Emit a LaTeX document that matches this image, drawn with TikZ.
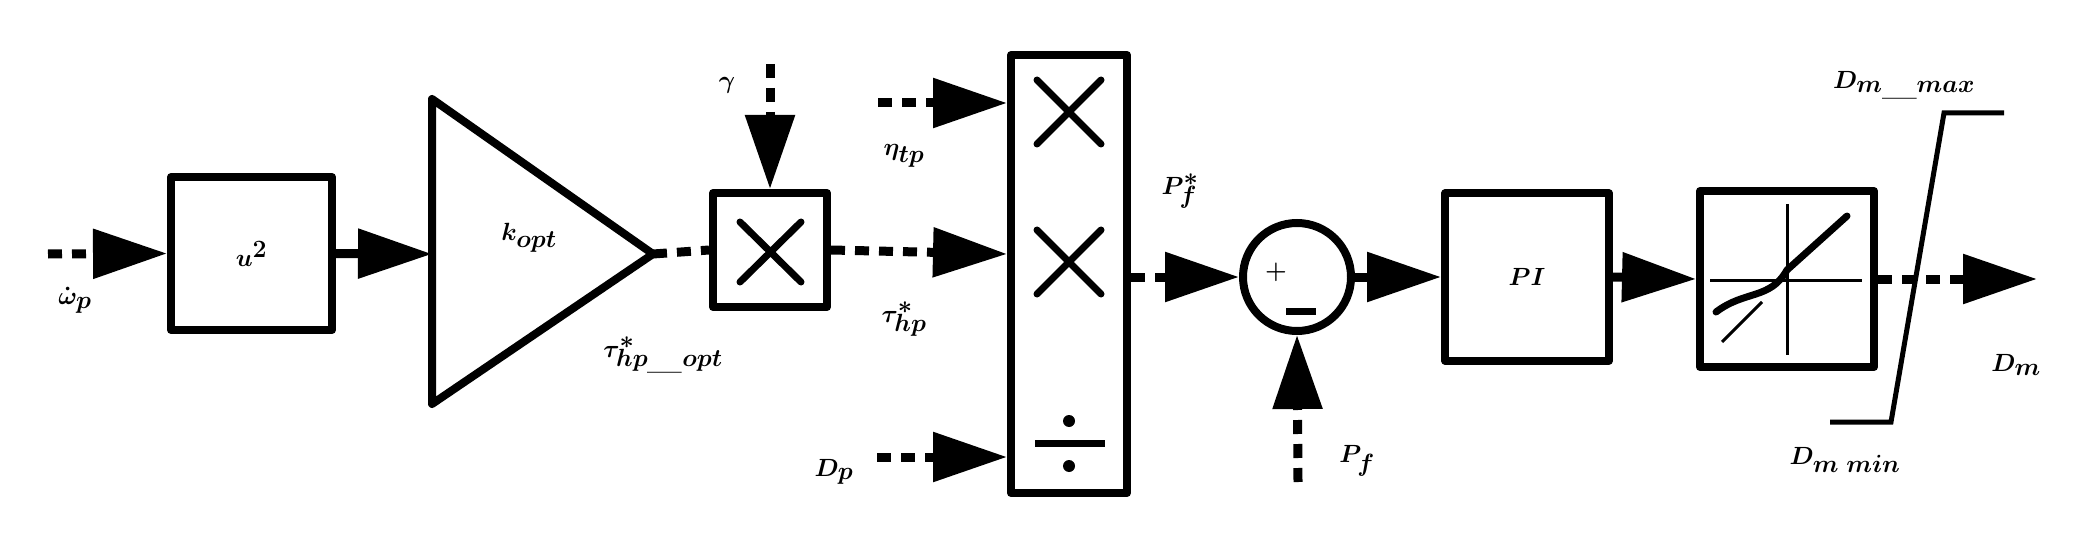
\documentclass[tikz,border=0pt]{standalone}
\usetikzlibrary{arrows.meta}
\begin{document}
\boldmath
\begin{tikzpicture}[x=1pt,y=-1pt,
  blk/.style={draw,line width=8pt,line join=round,inner sep=0pt},
  ln/.style={line width=9pt},
  sig/.style={ln,-{Triangle[length=74pt,width=48pt]}},
  dsig/.style={sig,dash pattern=on 14pt off 10pt},
  lbl/.style={inner sep=0pt,font=\fontsize{50}{56}\selectfont},
  thin/.style={line width=3pt}]
\useasboundingbox (0,0) rectangle (2093,556);
% blocks
\node[blk,minimum width=161pt,minimum height=153pt] (sq) at (251.5,253.5) {};
\node[lbl] at (sq) {$u^2$};
\coordinate (tA) at (432,99); \coordinate (tB) at (432,404); \coordinate (tip) at (653,254);
\draw[line width=8pt,line join=round] (tA) -- (tip) -- (tB) -- cycle;
\node[lbl] (kopt) at (529,238) {$k_{opt}$};
\coordinate (tin) at (432,254);
\node[blk,minimum width=114pt,minimum height=114pt] (m1) at (770,250) {};
\draw[line width=7pt,line cap=round] (740,222) -- (801,282) (801,222) -- (740,282);
\node[blk,minimum width=116pt,minimum height=438pt] (mb) at (1069,274) {};
\draw[line width=7pt,line cap=round] (1037,80) -- (1101,144) (1101,80) -- (1037,144)
  (1037,230) -- (1101,294) (1101,230) -- (1037,294);
\draw[line width=7pt] (1035,443) -- (1105,443);
\fill (1069,421) circle (6pt) (1069,466) circle (6pt);
\node[draw,circle,line width=8pt,minimum size=108pt,inner sep=0pt] (sum) at (1297,277) {};
\node[lbl,font=\fontsize{36}{40}\selectfont] at (1276,272) {$+$};
\draw[line width=7pt] (1286,311) -- (1316,311);
\node[blk,minimum width=164pt,minimum height=167pt] (pi) at (1527,277) {};
\node[lbl] at (pi) {$PI$};
\node[blk,minimum width=174pt,minimum height=176pt] (sat) at (1787,279) {};
\draw[thin] (1787,204) -- (1787,355) (1710,280) -- (1862,280);
\draw[line width=7pt,line cap=round] (1716,312) .. controls (1745,290) and (1770,300) .. (1787,270) -- (1847,216);
\draw[thin] (1722,342) -- (1762,302);
% inputs and connectors
\coordinate (w0) at (48,254);
\draw[dsig] (w0) -- (sq.west);
\node[lbl] at (75,300) {$\dot{\omega}_p$};
\draw[sig] (sq.east) -- (tin);
\draw[ln,dash pattern=on 14pt off 10pt] (tip) -- (m1.west);
\node[lbl] at (663,355) {$\tau^{*}_{hp\_opt}$};
\coordinate (g0) at (770,64);
\draw[dsig] (g0) -- (m1.north);
\node[lbl] at (727,85) {$\gamma$};
\draw[dsig] (m1.east) -- (mb.west |- 0,254);
\node[lbl] at (904,319) {$\tau^{*}_{hp}$};
\coordinate (e0) at (878,103);
\draw[dsig] (e0) -- (mb.west |- 0,103);
\node[lbl] at (904,156) {$\eta_{tp}$};
\coordinate (d0) at (877,457);
\draw[dsig] (d0) -- (mb.west |- 0,457);
\node[lbl] at (834,472) {$D_p$};
\draw[dsig] (mb.east |- 0,277) -- (sum.west);
\node[lbl] at (1180,191) {$P^{*}_{f}$};
\coordinate (p0) at (1298,482);
\draw[dsig] (p0) -- (sum.south);
\node[lbl] at (1357,461) {$P_f$};
\draw[sig] (sum.east) -- (pi.west);
\draw[sig] (pi.east) -- (sat.west);
\coordinate (out) at (2037,279);
\draw[dsig] (sat.east) -- (out);
\node[lbl] at (2016,365) {$D_m$};
\draw[line width=5pt] (1830,422) -- (1891,422) -- (1944,113) -- (2004,113);
\node[lbl] at (1904,85) {$D_{m\_max}$};
\node[lbl] at (1845,460) {$D_{m\;min}$};
\end{tikzpicture}
\end{document}
